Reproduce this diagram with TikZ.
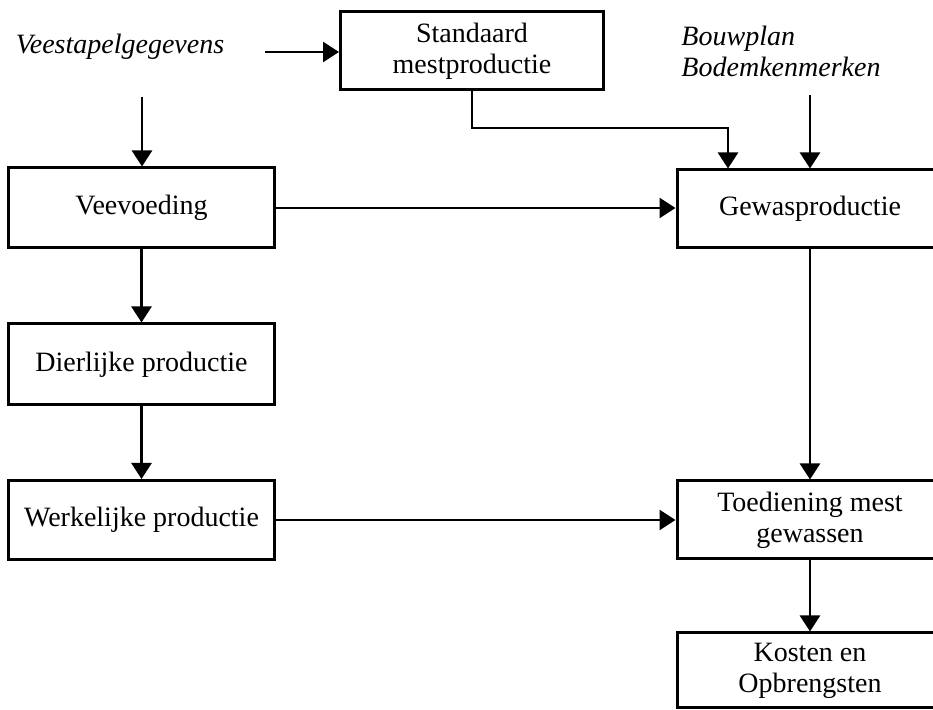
\documentclass[tikz,border=0pt]{standalone}
\usepackage{fontspec}
\setmainfont{Liberation Serif}
\usetikzlibrary{arrows.meta}

\begin{document}
\begin{tikzpicture}[x=0.5pt,y=-0.5pt]

\tikzstyle{blok} = [rectangle,draw=black,line width=1.5pt,inner sep=2pt,align=center,font=\fontsize{14}{15.5}\selectfont]%
\tikzstyle{invoer} = [inner sep=0pt,align=left,font=\fontsize{14}{15.5}\selectfont\itshape]%
\tikzstyle{pijl} = [-{Triangle[length=8pt,width=10pt]},line width=1.3pt]%

\useasboundingbox (0,0) rectangle (933,710);
\clip (0,0) rectangle (933,710);

\node[invoer] (vee) at (120,47) {Veestapelgegevens};
\node[invoer] (bouw) at (781,51) {Bouwplan\\Bodemkenmerken};

\node[blok,minimum width=131.5pt,minimum height=39pt] (std) at (472,51) {Standaard\\mestproductie};

\node[blok,minimum width=133pt,minimum height=40pt] (voeding) at (141.5,208) {Veevoeding};
\node[blok,minimum width=133pt,minimum height=40.5pt] (dier) at (141.5,364.5) {Dierlijke productie};
\node[blok,minimum width=133pt,minimum height=39.5pt] (werk) at (141.5,520) {Werkelijke productie};

\node[blok,minimum width=133pt,minimum height=39pt] (gewas) at (810,209) {Gewasproductie};
\node[blok,minimum width=133pt,minimum height=39pt] (toed) at (810,520) {Toediening mest\\gewassen};
\node[blok,minimum width=133pt,minimum height=37.5pt] (kosten) at (810,670.5) {Kosten en\\Opbrengsten};

% vrije begin- en knikpunten
\coordinate (veeuit) at (265,52);
\coordinate (veeonder) at (142,97);
\coordinate (bouwonder) at (810,95);
\coordinate (knik) at (728,128);

\draw[pijl] (veeuit) -- (veeuit -| std.west);
\draw[pijl] (veeonder) -- (veeonder |- voeding.north);
\draw[pijl] (std.south) |- (knik) -- (knik |- gewas.north);
\draw[pijl] (bouwonder) -- (gewas.north);

\draw[pijl] (voeding.east) -- (voeding.east -| gewas.west);
\draw[pijl] (voeding) -- (dier);
\draw[pijl] (dier) -- (werk);
\draw[pijl] (werk) -- (toed);

\draw[pijl] (gewas) -- (toed);
\draw[pijl] (toed) -- (kosten);

\end{tikzpicture}
\end{document}
